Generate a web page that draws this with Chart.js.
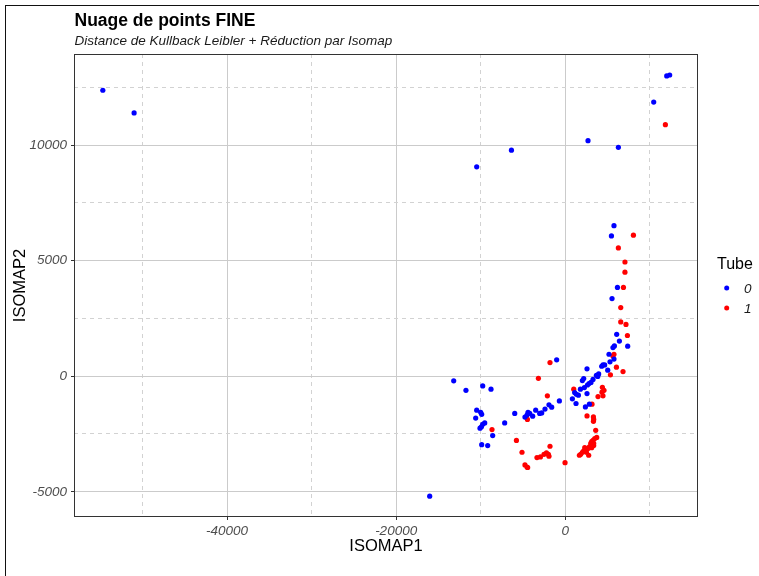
<!DOCTYPE html>
<html>
<head>
<meta charset="utf-8">
<script src="https://cdn.jsdelivr.net/npm/chart.js@4/dist/chart.umd.min.js"></script>
<style>
  html, body { margin: 0; padding: 0; background: #fff; overflow: hidden; }
  #wrap { position: relative; width: 759px; height: 576px; overflow: hidden; }
  #frame { position: absolute; left: 5px; top: 5px; width: 760px; height: 580px;
           border-left: 1px solid #111; border-top: 1px solid #111; pointer-events: none; }
</style>
</head>
<body>
<div id="wrap">
  <canvas id="chart" width="759" height="576"></canvas>
  <div id="frame"></div>
</div>
<script>
// --- données (ISOMAP1, ISOMAP2) ---
const TUBE_0 = [
  [-54700, 12370], [-51000, 11390], [-16030, -5190], [-10470, 9060], [-6360, 9780],
  [2700, 10190], [6290, 9900], [10470, 11860], [12010, 12990], [12360, 13030],
  [5770, 6510], [5470, 6070], [6180, 3840], [5540, 3360], [6090, 1810],
  [6410, 1520], [5820, 1310], [5650, 1240], [7390, 1300], [5180, 950],
  [5770, 740], [5300, 620], [4470, 490], [4670, 490], [4320, 430],
  [2580, 320], [5030, 260], [3960, 100], [3690, 40], [3850, -10],
  [3290, -140], [2190, -100], [2030, -190], [3050, -270], [2820, -320],
  [2630, -380], [2270, -490], [1800, -560], [1120, -710], [1320, -780],
  [1560, -820], [2580, -750], [850, -980], [1280, -1180], [2860, -1210],
  [2390, -1330], [-1010, 710], [-690, -1070], [-1920, -1240], [-1600, -1340],
  [-2390, -1420], [-3490, -1470], [-3020, -1610], [-2780, -1590], [-4400, -1560],
  [-4200, -1610], [-4520, -1680], [-3850, -1730], [-4760, -1770], [-5970, -1610],
  [-7160, -2020], [-13190, -200], [-11740, -610], [-9760, -420], [-8780, -560],
  [-10470, -1470], [-10000, -1560], [-9880, -1650], [-10590, -1810], [-9520, -2020],
  [-9760, -2080], [-9910, -2190], [-10080, -2250], [-8580, -2570], [-9880, -2960],
  [-9170, -3000]
];

const TUBE_1 = [
  [11850, 10880], [8070, 6100], [6290, 5550], [7070, 4940], [7070, 4500],
  [6890, 3840], [6570, 2970], [6570, 2350], [7190, 2240], [7360, 1760],
  [5770, 950], [5650, 870], [6060, 390], [6840, 200], [5350, 60],
  [1010, -560], [4400, -480], [4590, -610], [4350, -690], [3880, -880],
  [4470, -850], [3170, -1210], [-1800, 590], [-3170, -90], [-2110, -850],
  [-4470, -1870], [-8660, -2310], [-5770, -2780], [-5110, -3290], [-1800, -3030],
  [-2220, -3320], [-1990, -3380], [-2510, -3380], [-1920, -3460], [-2930, -3490],
  [-3340, -3520], [-4760, -3840], [-4520, -3930], [-4440, -3950], [-20, -3740],
  [2580, -1720], [3340, -1760], [3370, -1870], [3340, -1950], [3610, -2340],
  [3730, -2650], [3490, -2700], [3290, -2770], [3130, -2830], [3020, -2910],
  [3220, -2940], [3370, -3000], [2860, -3060], [3130, -3090], [2700, -3130],
  [3370, -2900], [2310, -3090], [2430, -3160], [2190, -3230], [2510, -3290],
  [2030, -3290], [1830, -3380], [1680, -3420], [2780, -3420]
];

// graduations
const X_MAJOR = [-40000, -20000, 0];
const X_MINOR = [-50000, -30000, -10000, 10000];
const Y_MAJOR = [-5000, 0, 5000, 10000];
const Y_MINOR = [-2500, 2500, 7500, 12500];

const TITLE = "Nuage de points FINE";
const SUBTITLE = "Distance de Kullback Leibler + Réduction par Isomap";
const LEGEND_TITLE = "Tube";

const FONT = "'Liberation Sans', Arial, sans-serif";
Chart.defaults.font.family = FONT;

function toPts(arr) {
  return arr.map(p => ({ x: p[0], y: p[1] }));
}

function setTicks(major, minor) {
  return scale => {
    scale.ticks = major.concat(minor).sort((a, b) => a - b).map(v => ({ value: v }));
  };
}

function gridStyle(major) {
  return {
    color: ctx => (ctx.tick && major.includes(ctx.tick.value)) ? "#cbcbcb" : "#d2d2d2",
    tickColor: ctx => (ctx.tick && major.includes(ctx.tick.value)) ? "#333333" : "rgba(0,0,0,0)",
    lineWidth: 1,
    tickLength: 3,
    tickWidth: 1
  };
}

function borderStyle(major) {
  return {
    display: false,
    dash: ctx => (ctx.tick && !major.includes(ctx.tick.value)) ? [4, 4] : []
  };
}

// titre, sous-titre, cadre du panneau et légende
const decor = {
  id: "decor",
  afterDraw(chart) {
    const { ctx, chartArea: a } = chart;
    ctx.save();
    ctx.strokeStyle = "#333333";
    ctx.lineWidth = 1;
    ctx.strokeRect(Math.round(a.left) + 0.5, Math.round(a.top) + 0.5,
      Math.round(a.right - a.left) - 1, Math.round(a.bottom - a.top) - 1);

    ctx.fillStyle = "#000";
    ctx.textAlign = "left";
    ctx.textBaseline = "alphabetic";
    ctx.font = "bold 17.5px " + FONT;
    ctx.fillText(TITLE, a.left + 0.5, 25.5);
    ctx.font = "italic 13.5px " + FONT;
    ctx.fillStyle = "#1a1a1a";
    ctx.fillText(SUBTITLE, a.left + 0.5, 44.5);

    // légende
    ctx.fillStyle = "#000";
    ctx.font = "16px " + FONT;
    ctx.fillText(LEGEND_TITLE, 717, 268.5);
    chart.data.datasets.forEach((ds, i) => {
      const y = 288 + i * 20;
      ctx.fillStyle = ds.backgroundColor;
      ctx.beginPath();
      ctx.arc(726.7, y, 2.5, 0, Math.PI * 2);
      ctx.fill();
      ctx.fillStyle = "#1a1a1a";
      ctx.font = "italic 13.5px " + FONT;
      ctx.fillText(ds.label, 744, y + 5);
    });
    ctx.restore();
  }
};

new Chart(document.getElementById("chart"), {
  type: "scatter",
  data: {
    datasets: [
      { label: "0", data: toPts(TUBE_0), backgroundColor: "#0000ff", borderWidth: 0, pointRadius: 2.6 },
      { label: "1", data: toPts(TUBE_1), backgroundColor: "#ff0000", borderWidth: 0, pointRadius: 2.6 }
    ]
  },
  options: {
    responsive: false,
    animation: false,
    layout: { padding: { left: 0, right: 61, top: 54, bottom: 0 } },
    plugins: {
      legend: { display: false },
      tooltip: { enabled: false },
      title: { display: false }
    },
    scales: {
      x: {
        type: "linear",
        min: -58110,
        max: 15710,
        afterBuildTicks: setTicks(X_MAJOR, X_MINOR),
        afterFit: s => { s.height = 59; },
        grid: gridStyle(X_MAJOR),
        border: borderStyle(X_MAJOR),
        ticks: {
          padding: 3,
          color: "#4d4d4d",
          font: { size: 13.5, style: "italic" },
          maxRotation: 0,
          autoSkip: false,
          callback: v => X_MAJOR.includes(v) ? String(v) : ""
        },
        title: {
          display: true,
          text: "ISOMAP1",
          color: "#000",
          font: { size: 16.5 },
          padding: { top: 0, bottom: 20 }
        }
      },
      y: {
        type: "linear",
        min: -6091,
        max: 13939,
        afterBuildTicks: setTicks(Y_MAJOR, Y_MINOR),
        afterFit: s => { s.width = 74; },
        grid: gridStyle(Y_MAJOR),
        border: borderStyle(Y_MAJOR),
        ticks: {
          padding: 4,
          color: "#4d4d4d",
          font: { size: 13.5, style: "italic" },
          autoSkip: false,
          callback: v => Y_MAJOR.includes(v) ? String(v) : ""
        },
        title: {
          display: true,
          text: "ISOMAP2",
          color: "#000",
          font: { size: 16.5 },
          padding: { top: 11, bottom: 0 }
        }
      }
    }
  },
  plugins: [decor]
});
</script>
</body>
</html>
